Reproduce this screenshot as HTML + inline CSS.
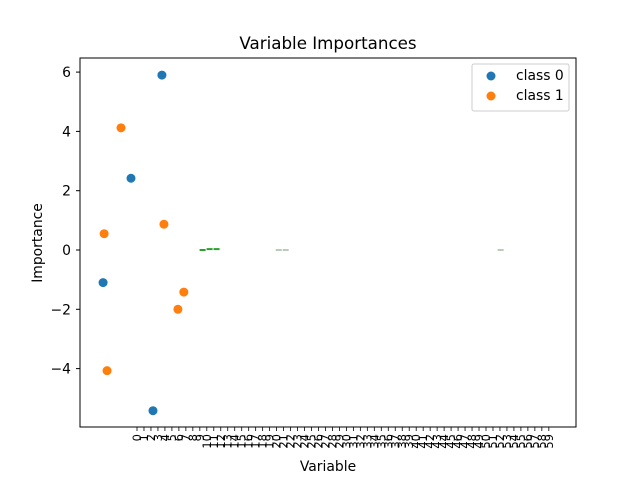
<!DOCTYPE html>
<html><head><meta charset="utf-8"><style>
body{margin:0;background:#fff;font-family:"DejaVu Sans","Liberation Sans",sans-serif}
svg text{font-family:"DejaVu Sans","Liberation Sans",sans-serif}
</style></head><body>
<svg id="chart" width="640" height="480" xmlns="http://www.w3.org/2000/svg">
<rect width="640" height="480" fill="#fff"/>
<text x="328" y="49" font-size="16.7" text-anchor="middle">Variable Importances</text>
<g id="ticks"></g>
<g id="marks"></g>
<rect x="80" y="58" width="496" height="369" fill="none" stroke="#000" stroke-width="1"/>
<text x="328" y="471" font-size="13.9" text-anchor="middle">Variable</text>
<text transform="translate(42,243) rotate(-90)" font-size="13.9" text-anchor="middle">Importance</text>
<g>
<rect x="472" y="64" width="97" height="47" fill="#fff" stroke="#ccc" rx="2"/>
<circle cx="491" cy="76" r="4.5" fill="#1f77b4"/>
<text x="516" y="80" font-size="13.9">class 0</text>
<circle cx="491" cy="96" r="4.5" fill="#ff7f0e"/>
<text x="516" y="100" font-size="13.9">class 1</text>
</g>
</svg>
<script>
const yTicks=[-4,-2,0,2,4,6];
const xTickLabels=Array.from({length:60},(_,i)=>String(i));
const class0X=[-4.86,-0.86,2.29,3.57];
const class0Y=[-1.1,2.42,-5.42,5.9];
const class1X=[-4.71,-4.29,-2.29,3.86,5.86,6.71];
const class1Y=[0.55,-4.07,4.12,0.87,-2.0,-1.42];
const barX=[9.4,10.4,11.4,20.3,21.3,52.1];
const barY=[0.0,0.03,0.03,0.0,0.0,0.0];
const NS="http://www.w3.org/2000/svg";
function xs(v){return 137+v*6.98;}
function ys(v){return 250-v*29.65;}
const ticks=document.getElementById('ticks'),marks=document.getElementById('marks');
yTicks.forEach(t=>{
 const l=document.createElementNS(NS,'line');
 l.setAttribute('x1',76);l.setAttribute('x2',80);l.setAttribute('y1',ys(t));l.setAttribute('y2',ys(t));l.setAttribute('stroke','#000');
 
 
 ticks.appendChild(l);
 const tx=document.createElementNS(NS,'text');
 tx.setAttribute('x',71);tx.setAttribute('y',ys(t)+5);tx.setAttribute('font-size','13.9');tx.setAttribute('text-anchor','end');
 tx.textContent=(t<0?'\u2212'+(-t):String(t));
 
 
 ticks.appendChild(tx);
});
xTickLabels.forEach((lab,i)=>{
 const x=xs(i);
 const l=document.createElementNS(NS,'line');
 l.setAttribute('x1',x);l.setAttribute('x2',x);l.setAttribute('y1',427);l.setAttribute('y2',431);l.setAttribute('stroke','#000');l.setAttribute('stroke-width','0.8');
 
 
 ticks.appendChild(l);
 const tx=document.createElementNS(NS,'text');
 tx.setAttribute('transform','translate('+(x+4)+',434) rotate(-90)');
 tx.setAttribute('font-size','11.5');tx.setAttribute('text-anchor','end');
 tx.textContent=lab;
 
 
 ticks.appendChild(tx);
});
barX.forEach((v,i)=>{
 const l=document.createElementNS(NS,'line');
 l.setAttribute('x1',xs(v)-3);l.setAttribute('x2',xs(v)+3);l.setAttribute('y1',ys(barY[i]));l.setAttribute('y2',ys(barY[i]));
 l.setAttribute('stroke',i<3?'#2ca02c':'#8aa88a');l.setAttribute('stroke-width',i<3?'2':'1.2');
 
 
 marks.appendChild(l);
});
function pts(X,Y,c,name){X.forEach((v,i)=>{
 const p=document.createElementNS(NS,'circle');
 p.setAttribute('cx',xs(v));p.setAttribute('cy',ys(Y[i]));p.setAttribute('r',4.5);p.setAttribute('fill',c);
 
 
 marks.appendChild(p);});}
pts(class0X,class0Y,'#1f77b4','class-0-point');
pts(class1X,class1Y,'#ff7f0e','class-1-point');
</script>
</body></html>
